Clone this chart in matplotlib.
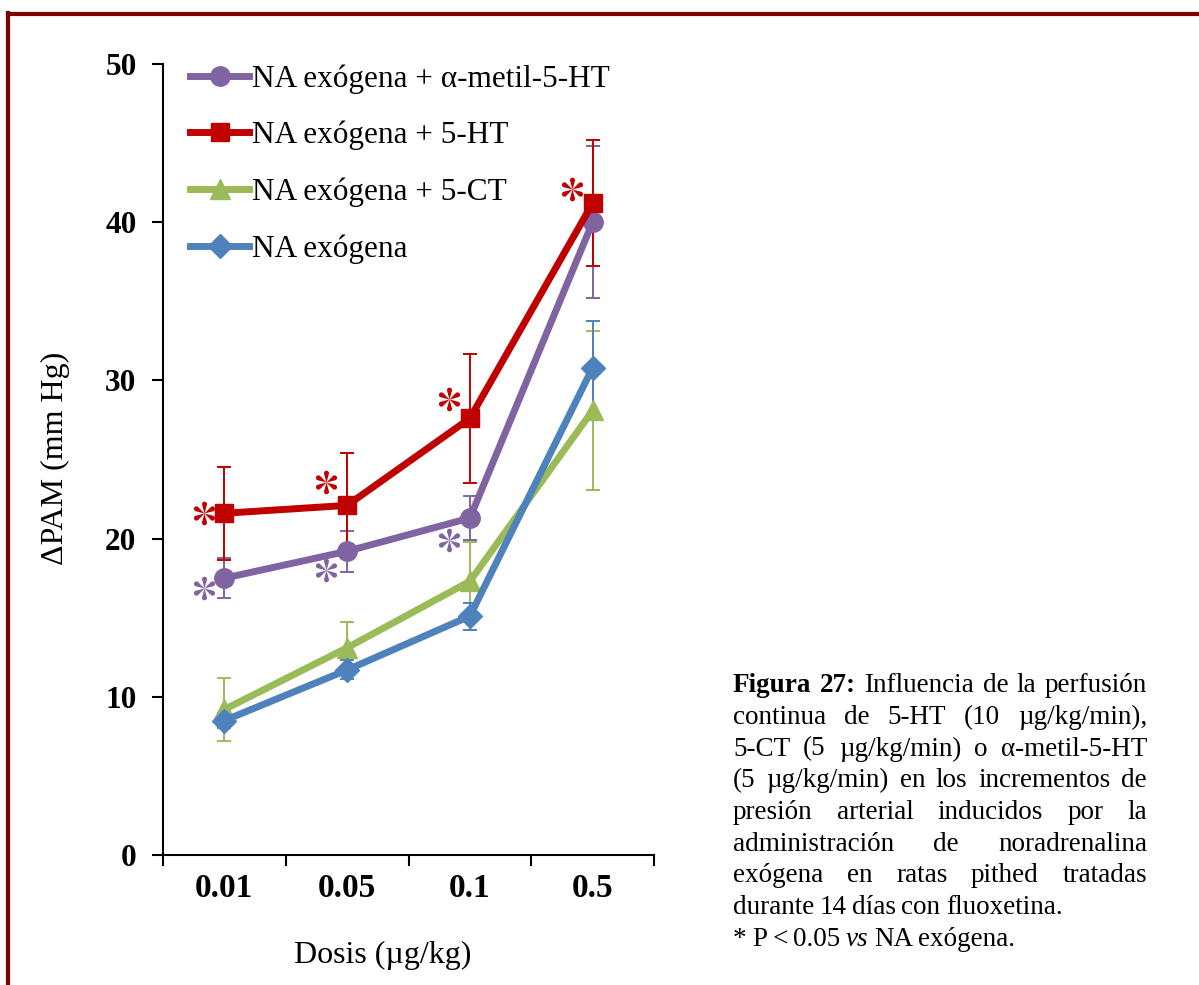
import numpy as np
import matplotlib
matplotlib.use("Agg")
import matplotlib.pyplot as plt
from matplotlib.lines import Line2D
from matplotlib.path import Path

plt.rcParams['font.family'] = ['Liberation Serif', 'DejaVu Serif']

# doses (µg/kg) and mean ΔPAM ± SEM for each treatment
doses = ['0.01', '0.05', '0.1', '0.5']
labels = ['NA exógena + α-metil-5-HT', 'NA exógena + 5-HT',
          'NA exógena + 5-CT', 'NA exógena']

metil_mean = [17.5, 19.2, 21.3, 40.0]
metil_err = [1.25, 1.3, 1.4, 4.8]
ht_mean = [21.6, 22.1, 27.6, 41.2]
ht_err = [2.95, 3.3, 4.1, 4.0]
ct_mean = [9.2, 13.1, 17.3, 28.1]
ct_err = [2.0, 1.6, 2.5, 5.0]
na_mean = [8.5, 11.7, 15.1, 30.8]
na_err = [0.5, 0.6, 0.85, 2.95]

# significance marks (index of dose) for each series
metil_sig = [0, 1, 2]
ht_sig = [0, 1, 2, 3]

colors = ['#8064A2', '#C00000', '#9BBB59', '#4F81BD']
markers = ['o', 's', '^', 'D']
msizes = [14, 13, 14, 12]


def star_path():
    # six teardrop spokes, rounded at the outer end
    d, r = 0.74, 0.2
    half = np.arcsin(r / d)
    verts, codes = [], []
    for ang in np.deg2rad([90, 30, -30, -90, -150, 150]):
        arc = [(d * np.cos(ang) + r * np.cos(a), d * np.sin(ang) + r * np.sin(a))
               for a in np.linspace(ang - np.pi / 2 - half, ang + np.pi / 2 + half, 30)]
        pts = [(0.0, 0.0)] + arc + [(0.0, 0.0)]
        verts += pts
        codes += [Path.MOVETO] + [Path.LINETO] * (len(pts) - 2) + [Path.CLOSEPOLY]
    return Path(verts, codes)


star = star_path()

fig = plt.figure(figsize=(11.99, 9.85), dpi=100)
W, H = 1199, 985
ax = fig.add_axes([163 / W, 1 - 855 / H, (654 - 163) / W, (855 - 64) / H])

x = np.arange(len(doses)) + 0.5
series = [(metil_mean, metil_err), (ht_mean, ht_err),
          (ct_mean, ct_err), (na_mean, na_err)]
for k, (m, e) in enumerate(series):
    ax.errorbar(x, m, yerr=e, fmt='none', ecolor=colors[k], elinewidth=1.4,
                capsize=5, capthick=1.4, zorder=2 + k * 0.1)
    ax.plot(x, m, color=colors[k], lw=5, marker=markers[k], ms=msizes[k],
            label=labels[k], zorder=3 + k * 0.1)

# asterisks placed to the left of the points
star_dx = -0.17
ht_star_dy = [0.0, 1.5, 1.2, 0.9]
metil_star_dy = [-0.65, -1.2, -1.4]
for j, i in enumerate(ht_sig):
    ax.plot(x[i] + star_dx, ht_mean[i] + ht_star_dy[j], linestyle='none',
            marker=star, ms=17, color=colors[1], mew=0, zorder=5)
for j, i in enumerate(metil_sig):
    ax.plot(x[i] + star_dx, metil_mean[i] + metil_star_dy[j], linestyle='none',
            marker=star, ms=17, color=colors[0], mew=0, zorder=5)

ax.set_xlim(0, 4)
ax.set_ylim(0, 50)
ax.set_yticks(np.arange(0, 51, 10))
ax.set_xticks(np.arange(0, 5))
ax.set_xticklabels([])
ax.set_xticks(x, minor=True)
ax.set_xticklabels(doses, minor=True)
for s in ['top', 'right']:
    ax.spines[s].set_visible(False)
for s in ['left', 'bottom']:
    ax.spines[s].set_linewidth(1.5)
ax.tick_params(axis='y', direction='out', length=8, width=1.5, pad=11,
               labelsize=22.5)
ax.tick_params(axis='x', which='major', direction='out', length=8, width=1.5)
ax.tick_params(axis='x', which='minor', length=0, pad=13, labelsize=24)
for t in ax.get_yticklabels() + ax.get_xticklabels(minor=True):
    t.set_fontweight('bold')

fig.text(55 / W, 1 - 458 / H, 'ΔPAM (mm Hg)', rotation=90, fontsize=23,
         ha='center', va='center')
fig.text(383 / W, 1 - 955 / H, 'Dosis (µg/kg)', fontsize=23,
         ha='center', va='center')

fig.legend(loc='upper left', bbox_to_anchor=(190 / W, 1 - 64 / H),
           frameon=False, fontsize=22.5, handlelength=1.9, handletextpad=0.1,
           labelspacing=0.87, borderpad=0, borderaxespad=0)

# dark red frame along the top and left edge
frame = '#800000'
fig.add_artist(Line2D([7.5 / W, 1], [1 - 14 / H, 1 - 14 / H], color=frame,
                      lw=3, transform=fig.transFigure))
fig.add_artist(Line2D([7.5 / W, 7.5 / W], [0, 1 - 12.5 / H], color=frame,
                      lw=3, transform=fig.transFigure))

# justified caption
cap_size = 19.5
cap_lines = [
    [('Figura', 'bold', 'normal'), ('27:', 'bold', 'normal'),
     ('Influencia', 'normal', 'normal'), ('de', 'normal', 'normal'),
     ('la', 'normal', 'normal'), ('perfusión', 'normal', 'normal')],
    'continua de 5-HT (10 µg/kg/min),',
    '5-CT (5 µg/kg/min) o α-metil-5-HT',
    '(5 µg/kg/min) en los incrementos de',
    'presión arterial inducidos por la',
    'administración de noradrenalina',
    'exógena en ratas pithed tratadas',
    'durante 14 días con fluoxetina.',
    [('*', 'normal', 'normal'), ('P', 'normal', 'normal'),
     ('<', 'normal', 'normal'), ('0.05', 'normal', 'normal'),
     ('vs', 'normal', 'italic'), ('NA', 'normal', 'normal'),
     ('exógena.', 'normal', 'normal')],
]
justified = 7
cap_left, cap_right = 733, 1147
base0, step = 692, 31.75

fig.canvas.draw()
renderer = fig.canvas.get_renderer()


def word_width(w, weight, style):
    t = fig.text(0, 0, w, fontsize=cap_size, weight=weight, style=style)
    wd = t.get_window_extent(renderer).width
    t.remove()
    return wd


space = 0.2 * cap_size * 100 / 72
for n, line in enumerate(cap_lines):
    if isinstance(line, str):
        line = [(w, 'normal', 'normal') for w in line.split()]
    widths = [word_width(*w) for w in line]
    if n < justified:
        gap = (cap_right - cap_left - sum(widths)) / (len(line) - 1)
    else:
        gap = space
    px = cap_left
    y = 1 - (base0 + n * step) / H
    for (w, weight, style), wd in zip(line, widths):
        fig.text(px / W, y, w, fontsize=cap_size, weight=weight, style=style,
                 ha='left', va='baseline')
        px += wd + gap

fig.savefig('out.png', dpi=100, facecolor='white')
